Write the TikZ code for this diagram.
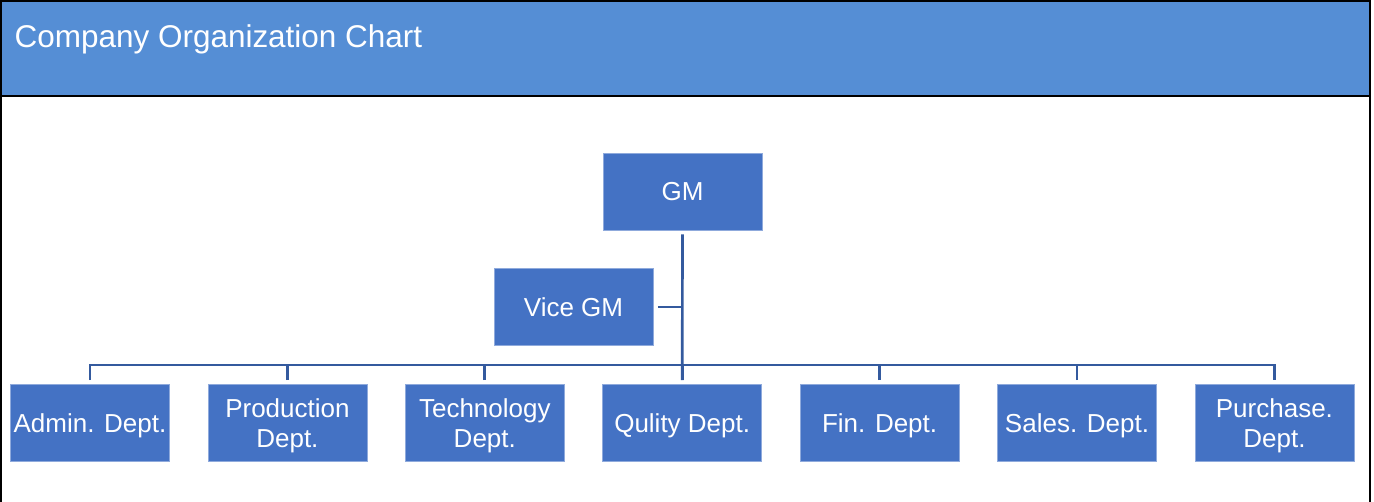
\documentclass[tikz,border=0pt]{standalone}
\usepackage{fontspec}
\setmainfont{Liberation Sans}
\usepackage{tikz}
\definecolor{headblue}{RGB}{85,142,213}
\definecolor{boxblue}{RGB}{68,114,196}
\definecolor{lineblue}{RGB}{52,90,158}
\tikzset{
    unit/.style={fill=boxblue, draw=boxblue!60!white, line width=0.4pt, text=white,
        minimum width=119.25pt, minimum height=57.75pt, inner sep=0pt, text depth=0pt,
        align=center, font=\fontsize{19.5}{22.5}\selectfont},
    link/.style={lineblue, line width=2pt}
}

\begin{document}
\begin{tikzpicture}[x=0.75pt, y=-0.75pt]
                
                    \useasboundingbox (0, 0) rectangle (1374, 502);
                    \fill [headblue] (0, 0) rectangle (1370, 96);
                    \draw [line width=1.5pt] (1, 502) -- (1, 1) -- (1370, 1) -- (1370, 502);
                    \draw [line width=1.5pt] (1, 96) -- (1370, 96);
                    \node [anchor=base west, text=white, font=\fontsize{23.6}{28}\selectfont]
                        (title) at (10, 48) {Company Organization Chart};

                    \node [unit] (gm) at (682.5, 191.5) {GM};
                    \node [unit] (vgm) at (573.5, 307) {Vice GM};
                    \coordinate (bus) at (682.5, 365);
        
                    \foreach \name [count=\i] in {Admin. Dept., Production\\Dept.,
                            Technology\\Dept., Qulity Dept., Fin. Dept.,
                            Sales. Dept., Purchase.\\Dept.}
                        \node [unit] (dept\i) at (90 + 197.4*\i - 197.4, 423)
                            {\name};

                    \draw [link] ([yshift=-3pt]gm.south) -- ([yshift=3pt]dept4.north);
                    \draw [link] ([xshift=3.5pt]vgm.east) -- (vgm.east -| gm.south);
                    \draw [link] ([yshift=3pt]dept1.north) |- (bus -| dept7.north)
                        -- ([yshift=3pt]dept7.north);
                    \foreach \i in {2, ..., 6}
                        \draw [link] ([yshift=3pt]dept\i.north) -- (bus -| dept\i.north);
                \end{tikzpicture}
\end{document}
